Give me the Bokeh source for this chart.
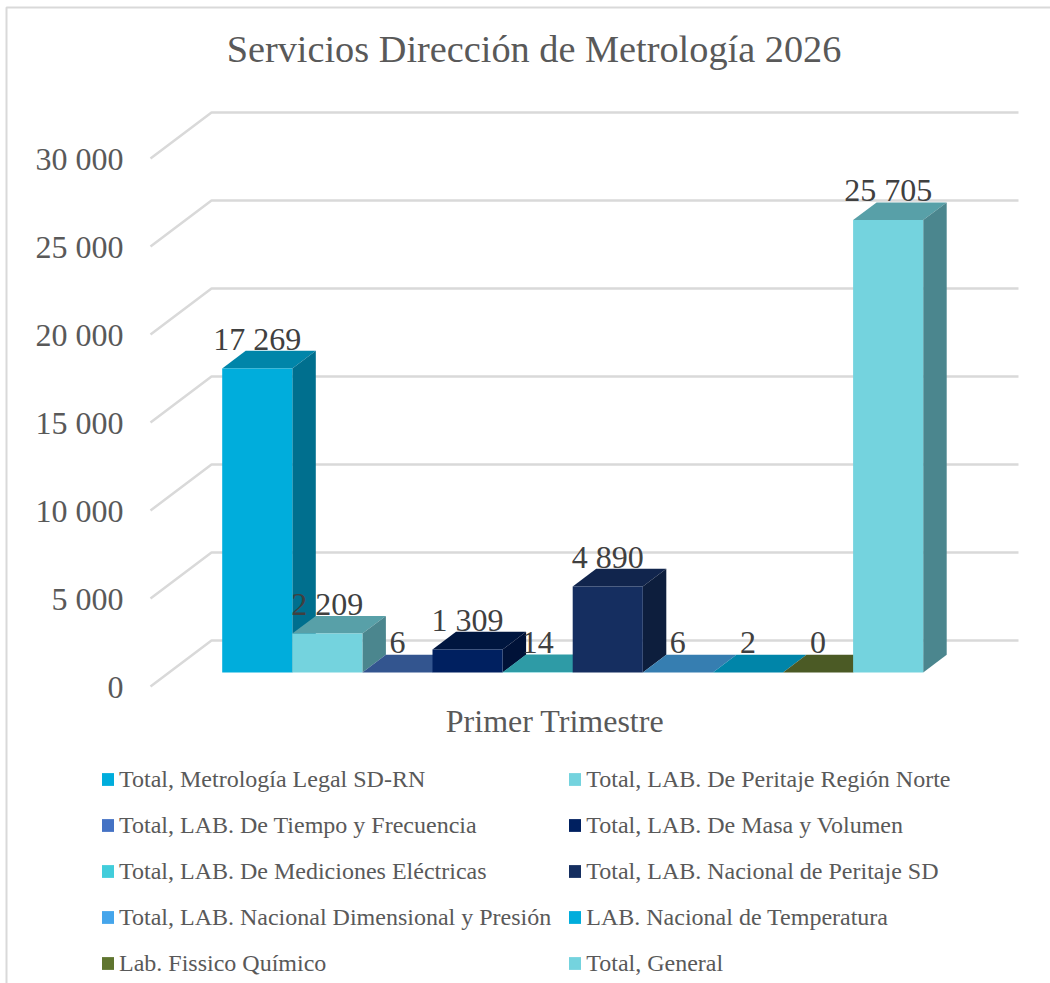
from bokeh.plotting import figure
from bokeh.embed import file_html
from bokeh.resources import INLINE
from bokeh.core.properties import value
from bokeh.models import (Range1d, FixedTicker, Legend, LegendItem, LinearAxis,
                          Label, BoxAnnotation)

SERIES = ["Total, Metrología Legal SD-RN", "Total, LAB. De Peritaje Región Norte",
          "Total, LAB. De Tiempo y Frecuencia", "Total, LAB. De Masa y Volumen",
          "Total, LAB. De Mediciones Eléctricas", "Total, LAB. Nacional de Peritaje SD",
          "Total, LAB. Nacional Dimensional y Presión", "LAB. Nacional de Temperatura",
          "Lab. Fissico Químico", "Total, General"]
VALUES = [17269, 2209, 6, 1309, 14, 4890, 6, 2, 0, 25705]
VALUE_LABELS = ["17 269", "2 209", "6", "1 309", "14", "4 890", "6", "2", "0", "25 705"]
TICKS = [0, 5000, 10000, 15000, 20000, 25000, 30000]
TICK_LABELS = ["0", "5 000", "10 000", "15 000", "20 000", "25 000", "30 000"]
CATEGORY = "Primer Trimestre"
TITLE = "Servicios Dirección de Metrología 2026"

FRONT = ["#00ADDC", "#74D3DE", "#4472C4", "#002060", "#41CDDB", "#152E60", "#45A5EB", "#00ADDC", "#5F752F", "#74D3DE"]
TOP = ["#0085A9", "#58A0A8", "#33558F", "#00163F", "#2E9BA6", "#11254D", "#367EB1", "#0085A9", "#4B5A25", "#58A0A8"]
SIDE = ["#006F8E", "#4B868E", "#2A4678", "#001238", "#26828B", "#0D1E3D", "#2C6994", "#006F8E", "#3E4B1E", "#4B868E"]

# projection constants (pixels)
W, H = 1050, 983
PX_PER_BAR = 70.1
PX_PER_UNIT = 0.0176
X0_PX = 221.7
Y0_PX = 686
x_of = lambda px: (px - X0_PX) / PX_PER_BAR
u = lambda px: px / PX_PER_UNIT

BASE = u(Y0_PX - 672)      # bars stand inside the floor
DX, DY = 23.5 / PX_PER_BAR, u(17.7)
WALL_X, WALL_BX, GRID_END = x_of(150), x_of(211), x_of(1018)
WALL_DY = u(46)
GREY, DARK = "#595959", "#404040"
SERIF = "Liberation Serif"

p = figure(width=W, height=H, output_backend="svg", toolbar_location=None,
           x_range=Range1d(x_of(0), x_of(W)),
           y_range=Range1d(-(H - Y0_PX) / PX_PER_UNIT, Y0_PX / PX_PER_UNIT),
           min_border=0, x_axis_location=None, y_axis_location=None, tools="")
p.styles = {"position": "absolute", "left": "0px", "top": "0px"}
p.grid.visible = False
p.outline_line_color = None

# title
p.add_layout(Label(x=533.5, y=H - 48.5, x_units="screen", y_units="screen", text=TITLE,
                   text_font=SERIF, text_font_size="38.3px", text_color=GREY,
                   text_align="center", text_baseline="middle"))

# gridlines on wall and back plane
p.multi_line(xs=[[WALL_X, WALL_BX, GRID_END] for _ in TICKS],
             ys=[[t, t + WALL_DY, t + WALL_DY] for t in TICKS],
             line_color="#D9D9D9", line_width=2.5)

# value axis
ya = LinearAxis(ticker=FixedTicker(ticks=TICKS), fixed_location=WALL_X,
                major_label_overrides={t: l for t, l in zip(TICKS, TICK_LABELS)},
                axis_line_color=None, major_tick_line_color=None, minor_tick_line_color=None,
                major_tick_in=0, major_tick_out=0, major_label_standoff=27,
                major_label_text_font=SERIF, major_label_text_font_size="32px",
                major_label_text_color=GREY)
p.add_layout(ya, "left")

# category axis
xa = LinearAxis(ticker=FixedTicker(ticks=[x_of(554.5)]),
                major_label_overrides={x_of(554.5): CATEGORY},
                fixed_location=-u(16.5),
                axis_line_color=None, major_tick_line_color=None, minor_tick_line_color=None,
                major_tick_in=0, major_tick_out=0, major_label_standoff=0,
                major_label_text_font=SERIF, major_label_text_font_size="32px",
                major_label_text_color=GREY)
p.add_layout(xa, "below")

# 3D bars, left to right
items = []
for i, (name, v) in enumerate(zip(SERIES, VALUES)):
    l, r = i, i + 1
    b, t = BASE, BASE + v
    p.patch([l, r, r + DX, l + DX], [t, t, t + DY, t + DY], fill_color=TOP[i], line_color=None)
    p.patch([r, r + DX, r + DX, r], [b, b + DY, t + DY, t], fill_color=SIDE[i], line_color=None)
    front = p.quad(left=[l], right=[r], bottom=[b], top=[t], fill_color=FRONT[i], line_color=None)
    items.append(LegendItem(label=name, renderers=[front]))

# value labels
p.text(x=[i + 0.5 for i in range(len(VALUES))],
       y=[BASE + v + DY for v in VALUES],
       text=VALUE_LABELS, text_align="center", text_baseline="alphabetic", y_offset=-12,
       text_font=value(SERIF), text_font_size="32px", text_color=DARK)

legend = Legend(items=items, ncols=2, orientation="horizontal",
                location=(100, 5),
                background_fill_alpha=0, border_line_color=None,
                margin=0, padding=0, spacing=16,
                glyph_width=15, glyph_height=16, label_standoff=4, label_width=430,
                label_text_font=SERIF, label_text_font_size="24px", label_text_color=GREY,
                label_height=30)
p.add_layout(legend, "center")

# chart-area border (left and top edges only are on the page)
p.add_layout(BoxAnnotation(left=6, right=W + 10, top=H - 7, bottom=-10,
                           left_units="screen", right_units="screen",
                           top_units="screen", bottom_units="screen",
                           fill_alpha=0, line_color="#D9D9D9", line_alpha=1, line_width=2))

open("out.html", "w").write(file_html(p, INLINE))
